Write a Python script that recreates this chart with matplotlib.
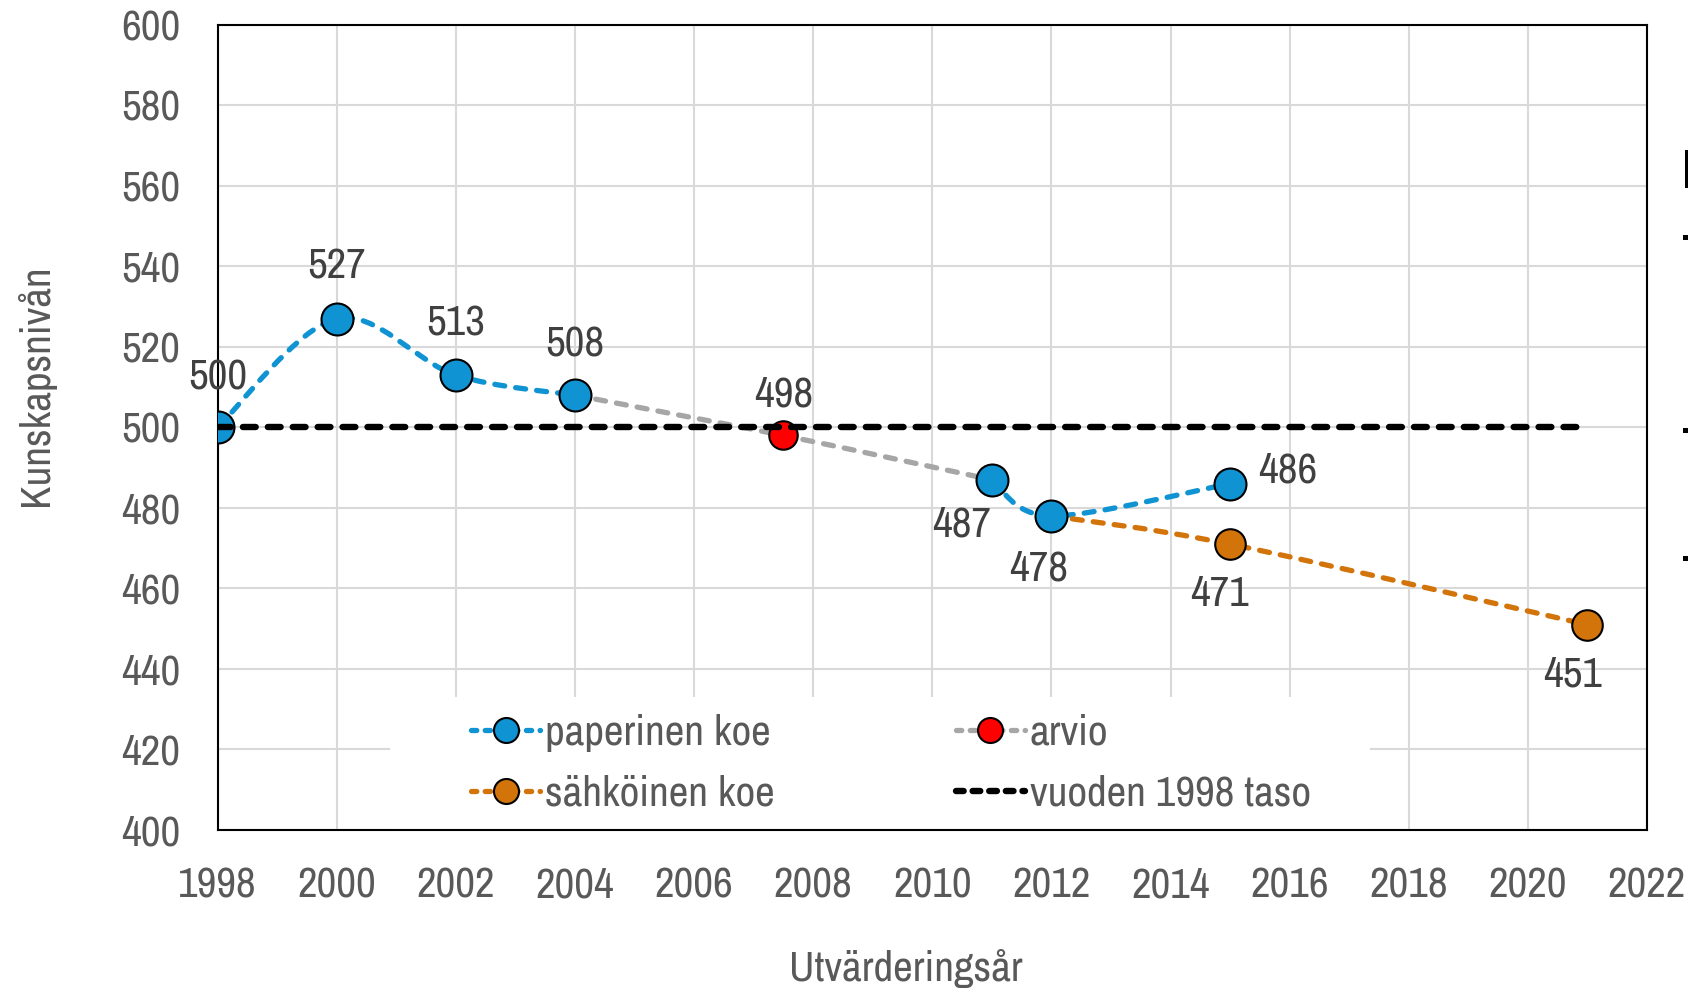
import numpy as np
import matplotlib
matplotlib.use("Agg")
import matplotlib.pyplot as plt
from matplotlib.path import Path
from matplotlib.patches import PathPatch, Rectangle
from matplotlib.lines import Line2D

# --- DATA ---
paper_years_a = [1998, 2000, 2002, 2004]
paper_vals_a = [500, 527, 513, 508]
paper_years_b = [2011, 2012, 2015]
paper_vals_b = [487, 478, 486]
estimate_years = [2004, 2007.5, 2011]
estimate_vals = [508, 498, 487]
digital_years = [2012, 2015, 2021]
digital_vals = [478, 471, 451]
baseline_years = [1998, 2021]
baseline_vals = [500, 500]

x_ticks = list(range(1998, 2023, 2))
y_ticks = list(range(400, 601, 20))

# data labels with their offsets (pixels)
label_points = [
    (1998, 500, "500", (0, 50)),
    (2000, 527, "527", (0, 52)),
    (2002, 513, "513", (0, 52)),
    (2004, 508, "508", (0, 51)),
    (2007.5, 498, "498", (0, 41)),
    (2011, 487, "487", (-30, -45)),
    (2012, 478, "478", (-13, -53)),
    (2015, 486, "486", (58, 13)),
    (2015, 471, "471", (-11, -50)),
    (2021, 451, "451", (-15, -50)),
]

# --- STYLE ---
BLUE = "#0F93D2"
ORANGE = "#D3740B"
GRAY = "#A6A6A6"
RED = "#FF0000"
TXT = "#595959"
LBL = "#404040"
FS = 31

plt.rcParams["font.family"] = ["Archivo Narrow", "DejaVu Sans"]


def smooth_path(xs, ys):
    pts = np.column_stack([xs, ys]).astype(float)
    n = len(pts)
    verts = [pts[0]]
    codes = [Path.MOVETO]
    for i in range(n - 1):
        p0 = pts[i - 1] if i > 0 else pts[i]
        p1, p2 = pts[i], pts[i + 1]
        p3 = pts[i + 2] if i + 2 < n else pts[i + 1]
        verts += [p1 + (p2 - p0) / 6, p2 - (p3 - p1) / 6, p2]
        codes += [Path.CURVE4] * 3
    return Path(verts, codes)


fig = plt.figure(figsize=(16.88, 9.92), dpi=100)
fig.subplots_adjust(left=0.1289, right=0.9757, top=0.975, bottom=0.1633)
ax = fig.add_subplot(111)

ax.set_xlim(1998, 2022)
ax.set_ylim(400, 600)
ax.set_xticks(x_ticks)
ax.set_yticks(y_ticks)
ax.grid(True, color="#D9D9D9", lw=1.5)
ax.set_axisbelow(True)
ax.tick_params(length=0, labelsize=FS, labelcolor=TXT)
ax.tick_params(axis="y", pad=27)
ax.tick_params(axis="x", pad=26)
for s in ax.spines.values():
    s.set_color("black")
    s.set_linewidth(1.5)

# white box behind the legend
ax.add_patch(Rectangle((0.1207, 0.0), 0.806 - 0.1207, 0.165, transform=ax.transAxes,
                       facecolor="white", edgecolor="none", zorder=0.8))

dash = (0, (1.9, 2.1))
for xs, ys, col in [(paper_years_a, paper_vals_a, BLUE),
                    (paper_years_b, paper_vals_b, BLUE),
                    (estimate_years, estimate_vals, GRAY),
                    (digital_years, digital_vals, ORANGE)]:
    ax.add_patch(PathPatch(smooth_path(xs, ys), fill=False, edgecolor=col,
                           lw=3.8, linestyle=dash, capstyle="round", zorder=2))

# markers
ax.plot(paper_years_a + paper_years_b, paper_vals_a + paper_vals_b, "o", ms=23,
        mfc=BLUE, mec="black", mew=1.5, zorder=3)
ax.plot(estimate_years[1:2], estimate_vals[1:2], "o", ms=20.5,
        mfc=RED, mec="black", mew=1.5, zorder=3)
ax.plot(digital_years[1:], digital_vals[1:], "o", ms=22,
        mfc=ORANGE, mec="black", mew=1.5, zorder=3)

# 1998 level
ax.plot(baseline_years, baseline_vals, color="black", lw=4.6,
        linestyle=(0, (2.0, 1.9)), dash_capstyle="round", zorder=4)

for x, y, t, off in label_points:
    ax.annotate(t, (x, y), xytext=off, textcoords="offset pixels",
                ha="center", va="center", fontsize=FS, color=LBL, zorder=5)

hdash = (0, (1.0, 1.6))
handles = [
    Line2D([], [], color=BLUE, lw=3.8, ls=hdash, dash_capstyle="round", marker="o",
           ms=18, mfc=BLUE, mec="black", mew=1.5),
    Line2D([], [], color=ORANGE, lw=3.8, ls=hdash, dash_capstyle="round", marker="o",
           ms=18, mfc=ORANGE, mec="black", mew=1.5),
    Line2D([], [], color=GRAY, lw=3.8, ls=hdash, dash_capstyle="round", marker="o",
           ms=18, mfc=RED, mec="black", mew=1.5),
    Line2D([], [], color="black", lw=4.6, ls=(0, (1.2, 1.4)), dash_capstyle="round"),
]
labels = ["paperinen koe", "sähköinen koe", "arvio", "vuoden 1998 taso"]
leg = ax.legend(handles, labels, ncol=2, loc="center left",
                bbox_to_anchor=(0.1775, 0.083), frameon=False, fontsize=FS,
                handlelength=1.6, handletextpad=0.12, columnspacing=4.2,
                labelspacing=0.53, borderpad=0, borderaxespad=0)
for t in leg.get_texts():
    t.set_color(TXT)
leg.set_zorder(6)

fig.text(36 / 1688, 1 - 385 / 992, "Kunskapsnivån", rotation=90, ha="center",
         va="center", fontsize=FS, color=TXT)
fig.text(906 / 1688, 1 - 969 / 992, "Utvärderingsår", ha="center", va="center",
         fontsize=FS, color=TXT)

# clipped fragments at the right edge
for (x0, y0, w, h) in [(1685, 150, 3, 38), (1683, 235, 5, 5), (1683, 428, 5, 5), (1683, 556, 5, 5)]:
    fig.add_artist(Rectangle((x0 / 1688, 1 - (y0 + h) / 992), w / 1688, h / 992,
                             transform=fig.transFigure, facecolor="black", edgecolor="none"))

fig.savefig("out.png", dpi=100)
